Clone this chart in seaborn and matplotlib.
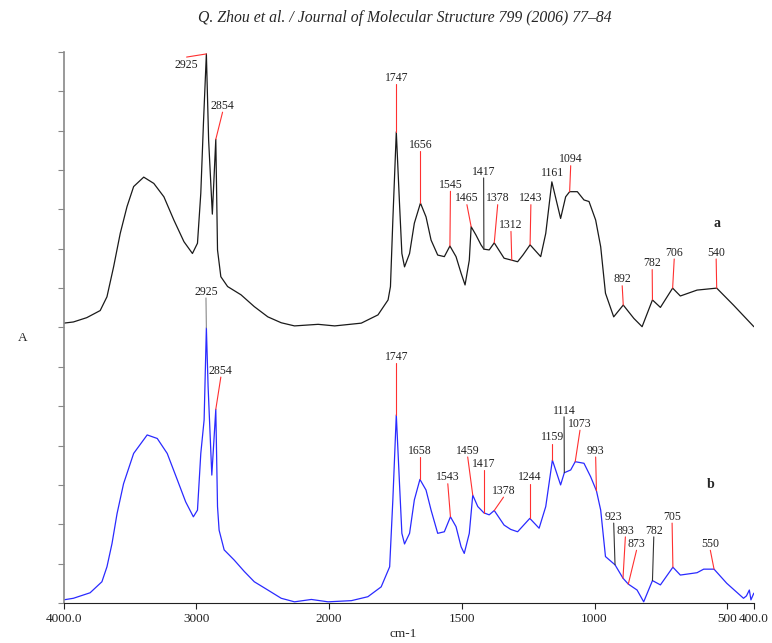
import numpy as np
import matplotlib
matplotlib.use("Agg")
import matplotlib.pyplot as plt
import seaborn as sns

# spectrum a (black) - wavenumber (cm-1) and absorbance
wn_a = [4000, 3927, 3826, 3725, 3674, 3624, 3574, 3523, 3473, 3397,
        3321, 3245, 3170, 3094, 3030, 2992, 2967, 2947, 2925, 2908,
        2880, 2854, 2841, 2816, 2765, 2664, 2564, 2462, 2361, 2261,
        2083, 1979, 1879, 1816, 1778, 1769, 1760, 1747, 1735, 1726,
        1716, 1697, 1679, 1656, 1635, 1616, 1591, 1566, 1545, 1522,
        1503, 1488, 1472, 1465, 1447, 1428, 1417, 1397, 1378, 1341,
        1312, 1290, 1270, 1243, 1203, 1184, 1161, 1128, 1109, 1094,
        1065, 1040, 1021, 996, 977, 959, 928, 892, 852, 821,
        782, 752, 706, 677, 614, 540, 477, 400]
abs_a = [7.11, 7.14, 7.25, 7.43, 7.78, 8.54, 9.39, 10.07, 10.58, 10.82,
         10.66, 10.32, 9.73, 9.18, 8.88, 9.14, 10.41, 12.19, 13.95, 11.76,
         9.88, 11.78, 8.97, 8.29, 8.04, 7.83, 7.53, 7.27, 7.12, 7.04,
         7.08, 7.04, 7.11, 7.32, 7.7, 8.04, 9.73, 11.97, 10.16, 8.88,
         8.54, 8.88, 9.65, 10.16, 9.81, 9.22, 8.84, 8.8, 9.07, 8.8,
         8.38, 8.08, 8.71, 9.56, 9.35, 9.1, 8.99, 8.97, 9.15, 8.76,
         8.71, 8.67, 8.84, 9.1, 8.8, 9.39, 10.7, 9.77, 10.32, 10.45,
         10.45, 10.24, 10.2, 9.73, 9.05, 7.87, 7.27, 7.57, 7.23, 7.02,
         7.7, 7.51, 8.0, 7.8, 7.95, 8.0, 7.57, 7.02]

# spectrum b (blue)
wn_b = [4000, 3927, 3801, 3712, 3674, 3636, 3598, 3549, 3473, 3371,
        3295, 3220, 3144, 3081, 3023, 2992, 2967, 2942, 2925, 2912,
        2884, 2854, 2841, 2829, 2791, 2715, 2639, 2564, 2462, 2361,
        2261, 2134, 2008, 1916, 1854, 1804, 1772, 1760, 1747, 1735,
        1726, 1716, 1697, 1679, 1658, 1635, 1616, 1591, 1566, 1543,
        1522, 1503, 1491, 1472, 1459, 1440, 1417, 1397, 1378, 1341,
        1316, 1290, 1244, 1209, 1184, 1159, 1128, 1114, 1090, 1073,
        1040, 1015, 993, 977, 959, 923, 893, 873, 840, 815,
        782, 752, 705, 677, 614, 589, 550, 502, 439, 428,
        417, 411, 400]
abs_b = [0.08, 0.12, 0.26, 0.54, 0.92, 1.51, 2.27, 3.03, 3.8, 4.27,
         4.18, 3.8, 3.13, 2.57, 2.19, 2.36, 3.8, 4.65, 6.99, 5.5,
         3.25, 4.92, 2.45, 1.85, 1.35, 1.09, 0.8, 0.54, 0.33, 0.12,
         0.03, 0.09, 0.03, 0.06, 0.16, 0.41, 0.92, 2.62, 4.78, 3.04,
         1.77, 1.5, 1.77, 2.62, 3.14, 2.87, 2.36, 1.77, 1.81, 2.19,
         1.94, 1.43, 1.26, 1.77, 2.74, 2.45, 2.29, 2.24, 2.35, 1.98,
         1.87, 1.81, 2.15, 1.9, 2.45, 3.63, 3.0, 3.31, 3.38, 3.59,
         3.55, 3.21, 2.85, 2.36, 1.18, 0.97, 0.63, 0.48, 0.33, 0.03,
         0.57, 0.46, 0.91, 0.71, 0.77, 0.86, 0.86, 0.5, 0.12, 0.18,
         0.33, 0.08, 0.25]

# labelled peaks
peaks_a = [2925, 2854, 1747, 1656, 1545, 1465, 1417, 1378, 1312, 1243,
           1161, 1094, 892, 782, 706, 540]
peaks_b = [2925, 2854, 1747, 1658, 1543, 1459, 1417, 1378, 1244, 1159,
           1114, 1073, 993, 923, 893, 873, 782, 705, 550]

xtick_vals = [4000, 3000, 2000, 1500, 1000, 500, 400]
xtick_labels = ["4000.0", "3000", "2000", "1500", "1000", "500", "400.0"]

# label placement (text centre in data units) and leader colour
text_a = [(3074, 13.67), (2803, 12.63), (1747, 13.34), (1656, 11.64),
          (1543, 10.62), (1481, 10.28), (1418, 10.96), (1365, 10.28),
          (1315, 9.6), (1240, 10.28), (1159, 10.93), (1090, 11.27),
          (896, 8.22), (783, 8.63), (700, 8.9), (542, 8.9)]
lead_a = ["r", "r", "r", "r", "r", "r", "k", "r", "r", "r", None, "r",
          "r", "r", "r", "r"]
text_b = [(2928, 7.91), (2816, 5.9), (1747, 6.26), (1658, 3.87),
          (1553, 3.19), (1478, 3.87), (1417, 3.53), (1343, 2.85),
          (1244, 3.19), (1159, 4.21), (1115, 4.89), (1055, 4.55),
          (996, 3.87), (928, 2.19), (884, 1.84), (842, 1.5), (777, 1.84),
          (708, 2.19), (564, 1.5)]
lead_b = ["g", "r", "r", "r", "r", "r", "r", "r", "r", "r", "k", "r",
          "r", "k", "r", "r", "k", "r", "r"]
lead_colors = {"r": "#ff3030", "k": "#333333", "g": "#888888"}

sns.set_style("ticks")
plt.rcParams["font.family"] = ["Liberation Serif", "DejaVu Serif"]


def fwd(x):
    x = np.asarray(x, dtype=float)
    return np.where(x > 2000, 2000 + (x - 2000) / 2.0, x)


def inv(u):
    u = np.asarray(u, dtype=float)
    return np.where(u > 2000, 2000 + (u - 2000) * 2.0, u)


fig = plt.figure(figsize=(7.72, 6.43), dpi=100)
ax = fig.add_axes([0.0825, 0.0622, 0.894, 0.857])

sns.lineplot(x=wn_a, y=abs_a, sort=False, estimator=None, color="#1a1a1a",
             lw=0.9, ax=ax)
sns.lineplot(x=wn_b, y=abs_b, sort=False, estimator=None, color="#2a2aff",
             lw=0.9, ax=ax)


def label_peaks(wn, ab, peaks, texts, leads):
    xs = np.array(wn[::-1], dtype=float)
    ys = np.array(ab[::-1], dtype=float)
    for p, (tx, ty), c in zip(peaks, texts, leads):
        py = np.interp(p, xs, ys)
        if c is not None:
            off = 0.2 if py > ty else -0.16
            ax.plot([p, tx], [py, ty + off], color=lead_colors[c], lw=0.8)
        ax.text(tx, ty, str(p), ha="center", va="center", fontsize=8.5,
                color="#222222")


label_peaks(wn_a, abs_a, peaks_a, text_a, lead_a)
label_peaks(wn_b, abs_b, peaks_b, text_b, lead_b)

ax.text(539, 9.65, "a", ha="center", va="center", fontsize=10,
        fontweight="bold")
ax.text(561, 3.02, "b", ha="center", va="center", fontsize=10,
        fontweight="bold")

ax.set_xscale("function", functions=(fwd, inv))
ax.set_xlim(4000, 400)
ax.set_ylim(0, 14)
ax.set_xticks(xtick_vals)
ax.set_xticklabels(xtick_labels)
ax.set_yticks(range(15))
ax.set_yticklabels([])
ax.tick_params(axis="x", direction="out", length=4, width=0.8,
               labelsize=9.5, pad=3, colors="#222222")
ax.tick_params(axis="y", direction="out", length=4, width=0.8,
               color="#888888")
ax.minorticks_off()

sns.despine(ax=ax)
ax.spines["left"].set_color("#888888")
ax.spines["left"].set_linewidth(1.2)
ax.spines["bottom"].set_color("#222222")
ax.spines["bottom"].set_linewidth(0.8)

ax.set_xlabel("cm-1", fontsize=9.5)
ax.xaxis.set_label_coords(0.492, -0.045)
ax.set_ylabel("A", rotation=0, fontsize=9.5)
ax.yaxis.set_label_coords(-0.06, 0.47)

fig.text(0.525, 0.972, "Q. Zhou et al. / Journal of Molecular Structure 799 (2006) 77\u201384",
         ha="center", va="center", fontsize=11.3, style="italic")

fig.savefig("out.png", dpi=100)
